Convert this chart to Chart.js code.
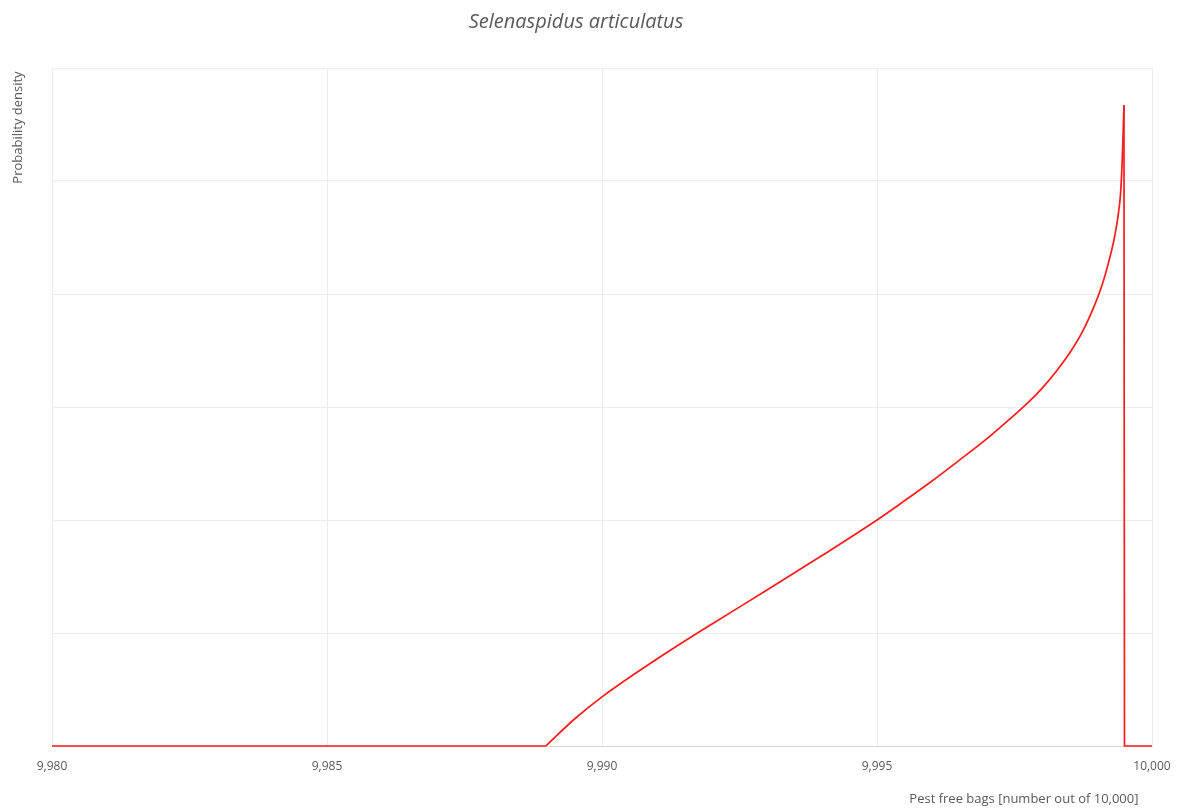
<!DOCTYPE html>
<html>
<head>
<meta charset="utf-8">
<script src="https://cdn.jsdelivr.net/npm/chart.js@4.4.1/dist/chart.umd.min.js"></script>
<style>
  html, body { margin: 0; padding: 0; background: #fff; }
  #wrap { width: 1177px; height: 812px; }
</style>
</head>
<body>
<div id="wrap"><canvas id="grafico"></canvas></div>
<script>
// pest free bags (x) and probability density (y, arbitrary units)
const bags = [9980, 9988.98, 9989.48, 9990, 9991, 9992, 9993, 9994, 9995, 9995.5,
  9996, 9996.5, 9997, 9997.5, 9997.75, 9998, 9998.25, 9998.5, 9998.75, 9999,
  9999.1, 9999.2, 9999.3, 9999.38, 9999.43, 9999.46, 9999.48, 9999.49, 9999.5, 10000]
const densidade = [0, 0, 0.23, 0.435, 0.77, 1.08, 1.38, 1.685, 2.0, 2.17,
  2.345, 2.53, 2.72, 2.93, 3.04, 3.165, 3.31, 3.475, 3.68, 3.955,
  4.09, 4.26, 4.46, 4.68, 4.9, 5.2, 5.5, 5.67, 0, 0]
const xTicks = [9980, 9985, 9990, 9995, 10000]
const titulo = 'Selenaspidus articulatus'
const tituloX = 'Pest free bags [number out of 10,000]'
const tituloY = 'Probability density'

const pontos = bags.map((b, i) => ({ x: b, y: densidade[i] }))
// inicio da subida e pico: trechos retos antes/depois, curva suave no meio
const ini = 1
const pico = densidade.indexOf(Math.max(...densidade))
const ctx = document.getElementById('grafico')

const serie = (dados, suave) => ({
  data: dados,
  showLine: true,
  borderColor: '#ff1a1a',
  borderWidth: 1.7,
  pointRadius: 0,
  cubicInterpolationMode: suave ? 'monotone' : 'default',
  tension: 0,
  clip: false
})

new Chart(ctx, {
  type: 'scatter',
  data: {
    datasets: [
      serie(pontos.slice(0, ini + 1), false),
      serie(pontos.slice(ini, pico + 1), true),
      serie(pontos.slice(pico), false)
    ]
  },
  options: {
    responsive: true,
    maintainAspectRatio: false,
    animation: false,
    layout: { padding: { left: 0, right: 25, top: 0, bottom: 0 } },
    plugins: {
      legend: { display: false },
      tooltip: { enabled: false },
      title: {
        display: true,
        text: titulo,
        color: '#595959',
        font: { family: 'Open Sans', size: 20, style: 'italic', weight: 'normal' },
        padding: { top: 10, bottom: 34 }
      }
    },
    scales: {
      x: {
        type: 'linear',
        min: 9980,
        max: 10000,
        afterBuildTicks: s => { s.ticks = xTicks.map(v => ({ value: v })) },
        afterFit: s => { s.height = 66; s.paddingRight = 0; s.paddingLeft = 0 },
        ticks: {
          color: '#595959',
          font: { family: 'Open Sans', size: 12 },
          padding: 13,
          maxRotation: 0,
          callback: v => v.toLocaleString('en-US')
        },
        grid: { color: '#ececec', drawTicks: false },
        border: { color: '#d9d9d9' },
        title: {
          display: true,
          text: tituloX + '\u00a0\u00a0\u00a0\u00a0',
          align: 'end',
          color: '#595959',
          font: { family: 'Open Sans', size: 13 },
          padding: { top: 0, bottom: 5 }
        }
      },
      y: {
        min: 0,
        max: 6,
        afterFit: s => { s.width = 52 },
        ticks: { display: false, stepSize: 1 },
        grid: { color: '#ececec', drawTicks: false },
        border: { color: '#ececec' },
        title: {
          display: true,
          text: tituloY + '\u00a0',
          align: 'end',
          color: '#595959',
          font: { family: 'Open Sans', size: 13 },
          padding: { top: 10, bottom: 0 }
        }
      }
    }
  }
})
</script>
</body>
</html>
